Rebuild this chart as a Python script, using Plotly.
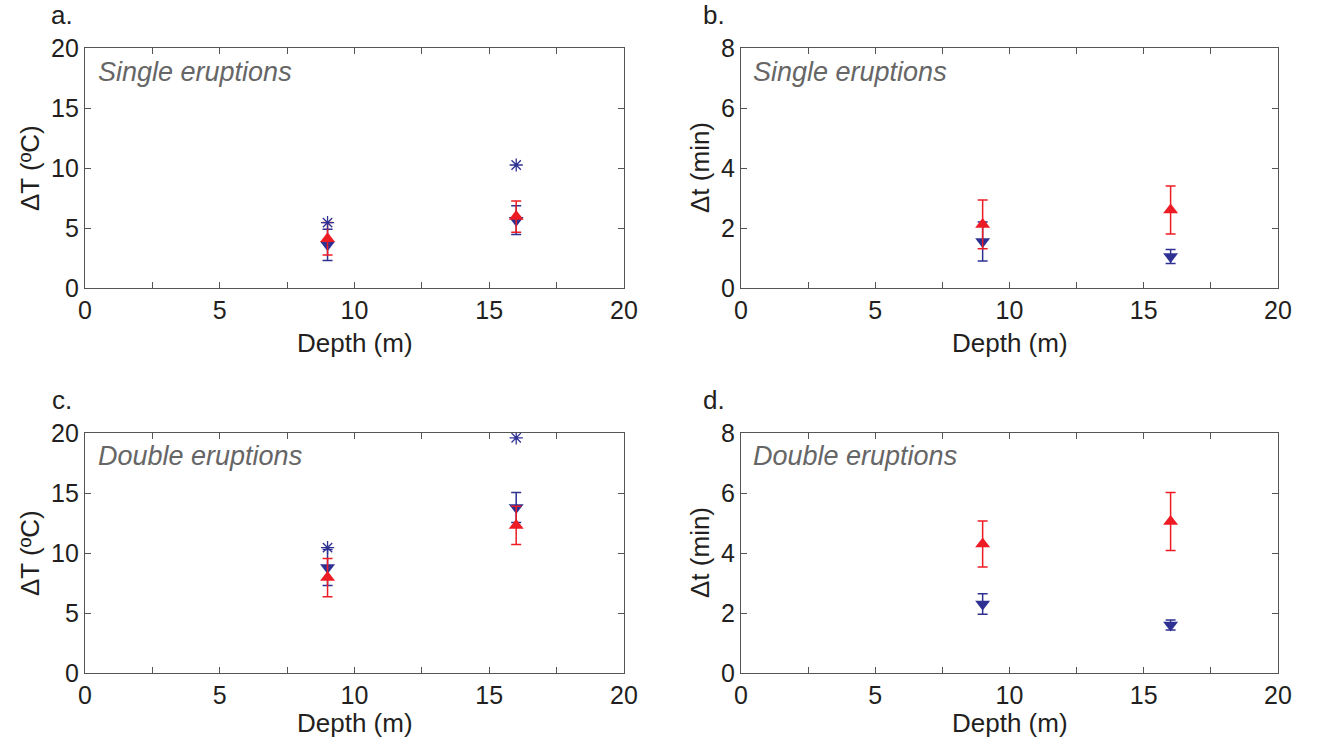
import plotly.graph_objects as go

# ---------------- data ----------------
depth = [9, 16]

# a. Single eruptions, delta T (degC)
a_blue_mean = [3.6, 5.65]
a_blue_err = [1.3, 1.2]
a_red_mean = [4.1, 5.95]
a_red_err = [1.35, 1.3]
a_star = [5.45, 10.25]

# b. Single eruptions, delta t (min)
b_blue_mean = [1.55, 1.05]
b_blue_err = [0.65, 0.23]
b_red_mean = [2.12, 2.6]
b_red_err = [0.81, 0.8]

# c. Double eruptions, delta T (degC)
c_blue_mean = [8.8, 13.8]
c_blue_err = [1.5, 1.25]
c_red_mean = [7.95, 12.3]
c_red_err = [1.6, 1.6]
c_star = [10.45, 19.6]

# d. Double eruptions, delta t (min)
d_blue_mean = [2.3, 1.6]
d_blue_err = [0.34, 0.17]
d_red_mean = [4.3, 5.05]
d_red_err = [0.77, 0.97]

x_tickvals = [0, 2.5, 5, 7.5, 10, 12.5, 15, 17.5, 20]
x_ticktext = ["0", "", "5", "", "10", "", "15", "", "20"]
yT_tickvals = [0, 5, 10, 15, 20]
yt_tickvals = [0, 2, 4, 6, 8]

BLUE = "#2E3192"
RED = "#ED1C24"
AXC = "#555555"
FONT = "Liberation Sans"

fig = go.Figure()

panels = [
    ("x", "y", a_blue_mean, a_blue_err, a_red_mean, a_red_err, a_star),
    ("x2", "y2", b_blue_mean, b_blue_err, b_red_mean, b_red_err, None),
    ("x3", "y3", c_blue_mean, c_blue_err, c_red_mean, c_red_err, c_star),
    ("x4", "y4", d_blue_mean, d_blue_err, d_red_mean, d_red_err, None),
]

for xa, ya, bm, be, rm, re_, st in panels:
    fig.add_trace(go.Scatter(
        x=depth, y=bm, xaxis=xa, yaxis=ya, mode="markers",
        marker=dict(symbol="triangle-down", size=13, color=BLUE),
        error_y=dict(type="data", array=be, visible=True, color=BLUE,
                     thickness=1.5, width=5),
        showlegend=False))
    fig.add_trace(go.Scatter(
        x=depth, y=rm, xaxis=xa, yaxis=ya, mode="markers",
        marker=dict(symbol="triangle-up", size=13, color=RED),
        error_y=dict(type="data", array=re_, visible=True, color=RED,
                     thickness=1.5, width=5),
        showlegend=False))
    if st is not None:
        fig.add_trace(go.Scatter(
            x=depth, y=st, xaxis=xa, yaxis=ya, mode="markers",
            marker=dict(symbol="asterisk-open", size=11, color=BLUE,
                        line=dict(color=BLUE, width=1.3)),
            showlegend=False))

xdom_l = [85 / 1318, 624 / 1318]
xdom_r = [741 / 1318, 1278 / 1318]
ydom_t = [1 - 288 / 747, 1 - 48 / 747]
ydom_b = [1 - 673 / 747, 1 - 433 / 747]

common = dict(showline=True, linecolor=AXC, linewidth=1.2, mirror="ticks",
              ticks="inside", ticklen=6, tickcolor=AXC, tickwidth=1.2,
              showgrid=False, zeroline=False, automargin=False,
              tickfont=dict(family=FONT, size=25, color="#231F20"))

def xax(dom, anchor):
    return dict(domain=dom, anchor=anchor, range=[0, 20], tickmode="array",
                tickvals=x_tickvals, ticktext=x_ticktext, **common)

def yax(dom, anchor, rng, tv):
    return dict(domain=dom, anchor=anchor, range=rng, tickmode="array",
                tickvals=tv, ticktext=[str(v) for v in tv], **common)

fig.update_layout(
    width=1318, height=747, autosize=False,
    margin=dict(l=0, r=0, t=0, b=0, pad=0, autoexpand=False),
    paper_bgcolor="white", plot_bgcolor="white",
    xaxis=xax(xdom_l, "y"), yaxis=yax(ydom_t, "x", [0, 20], yT_tickvals),
    xaxis2=xax(xdom_r, "y2"), yaxis2=yax(ydom_t, "x2", [0, 8], yt_tickvals),
    xaxis3=xax(xdom_l, "y3"), yaxis3=yax(ydom_b, "x3", [0, 20], yT_tickvals),
    xaxis4=xax(xdom_r, "y4"), yaxis4=yax(ydom_b, "x4", [0, 8], yt_tickvals),
)

def px_x(p):
    return p / 1318

def px_y(p):
    return 1 - p / 747

ann = []
tfont = dict(family=FONT, size=26, color="#231F20")
gfont = dict(family=FONT, size=27, color="#666666")
# panel letters
for t, x, y in [("a.", 62, 15), ("b.", 714, 15), ("c.", 62, 400), ("d.", 714, 400)]:
    ann.append(dict(text=t, x=px_x(x), y=px_y(y), xref="paper", yref="paper",
                    showarrow=False, font=tfont, xanchor="center", yanchor="middle"))
# italic panel titles
for t, x, y in [("Single eruptions", 96, 72), ("Single eruptions", 751, 72),
                ("Double eruptions", 96, 456), ("Double eruptions", 751, 456)]:
    ann.append(dict(text="<i>" + t + "</i>", x=px_x(x), y=px_y(y), xref="paper",
                    yref="paper", showarrow=False, font=gfont,
                    xanchor="left", yanchor="middle"))
# x axis titles
for x, y in [(355, 343), (1010, 343), (355, 723), (1010, 723)]:
    ann.append(dict(text="Depth (m)", x=px_x(x), y=px_y(y), xref="paper",
                    yref="paper", showarrow=False, font=tfont,
                    xanchor="center", yanchor="middle"))
# y axis titles
for t, x, y in [("ΔT (ºC)", 30, 168), ("Δt (min)", 700, 168),
                ("ΔT (ºC)", 30, 553), ("Δt (min)", 700, 553)]:
    ann.append(dict(text=t, x=px_x(x), y=px_y(y), xref="paper", yref="paper",
                    showarrow=False, font=tfont, textangle=-90,
                    xanchor="center", yanchor="middle"))
fig.update_layout(annotations=ann)

fig.write_html("out.html",
               config={"displayModeBar": False},
               post_script="document.body.style.margin='0px';"
                           "document.body.style.overflow='hidden';")
